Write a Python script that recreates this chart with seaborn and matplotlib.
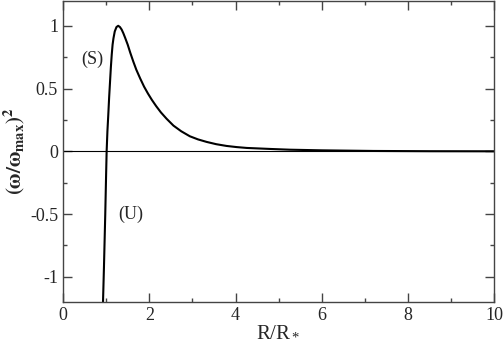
import pandas as pd
import numpy as np
import seaborn as sns
import matplotlib.pyplot as plt
from matplotlib.ticker import MultipleLocator

# values
r = [0.92, 0.95, 0.98, 1.00, 1.012, 1.03, 1.05, 1.07, 1.09, 1.11, 1.13, 1.15,
     1.17, 1.20, 1.24, 1.28, 1.32, 1.36, 1.40, 1.44, 1.50, 1.56, 1.63, 1.70,
     1.79, 1.88, 1.97, 2.06, 2.16, 2.27, 2.40, 2.56, 2.74, 2.94, 3.13, 3.33,
     3.55, 3.79, 4.02, 4.26, 4.80, 5.26, 6.00, 7.20, 8.50, 10.0]
w2 = [-1.30, -0.92, -0.50, -0.18, 0.0, 0.16, 0.29, 0.43, 0.55, 0.67, 0.77, 0.85,
      0.90, 0.955, 0.99, 1.00, 0.99, 0.97, 0.94, 0.905, 0.85, 0.785, 0.715, 0.65,
      0.58, 0.515, 0.46, 0.41, 0.36, 0.31, 0.26, 0.205, 0.16, 0.12, 0.095, 0.075,
      0.057, 0.043, 0.034, 0.027, 0.019, 0.013, 0.008, 0.003, 0.001, 0.0003]

df = pd.DataFrame({'R': r, 'w2': w2})

sns.set_style('ticks')
plt.rcParams['font.family'] = ['Liberation Serif', 'DejaVu Serif']
plt.rcParams['mathtext.fontset'] = 'stix'

fig = plt.figure(figsize=(5.03, 3.40), dpi=100)
ax = fig.add_axes([0.1252, 0.1118, 0.8578, 0.8862])

ax.axhline(0, color='black', lw=0.8)
sns.lineplot(x='R', y='w2', data=df, ax=ax, color='black', lw=1.5, sort=False)

ax.set_xlim(0, 10)
ax.set_ylim(-1.2, 1.2)
ax.xaxis.set_minor_locator(MultipleLocator(1))
ax.yaxis.set_minor_locator(MultipleLocator(0.25))
ax.set_xticks([0, 2, 4, 6, 8, 10])
ax.set_xticklabels(['0', '2', '4', '6', '8', '10'])
ax.set_yticks([-1, -0.5, 0, 0.5, 1])
ax.set_yticklabels(['-1', '-0.5', '0', '0.5', '1'])
ax.tick_params(which='both', direction='in', top=True, right=True,
               labelsize=13, color='#444444', width=1)
ax.tick_params(which='major', length=6.5)
ax.tick_params(which='minor', length=3)
for s in ax.spines.values():
    s.set_color('#444444')
    s.set_linewidth(1)

ax.set_xlabel(r'$\mathregular{R/R_*}$', fontsize=15, labelpad=-1)
ax.set_ylabel(r'$\mathbf{(\omega/\omega_{max})^2}$', fontsize=15, labelpad=2)

ax.text(0.67, 0.73, '(S)', fontsize=13, ha='center', va='center')
ax.text(1.57, -0.5, '(U)', fontsize=13, ha='center', va='center')

plt.savefig('out.png', dpi=100)
